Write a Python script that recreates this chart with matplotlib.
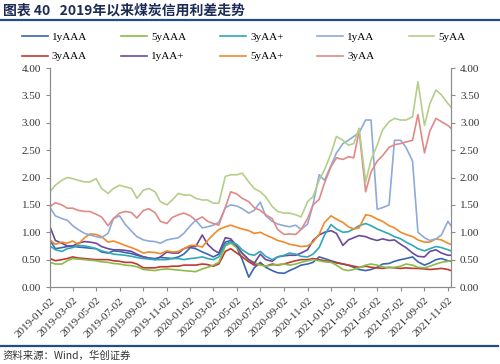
import pandas as pd
import matplotlib
matplotlib.use("Agg")
import matplotlib.pyplot as plt
import matplotlib.dates as mdates
from matplotlib.ticker import FixedLocator, FormatStrFormatter

plt.rcParams['font.family'] = ['Liberation Serif', 'Noto Sans CJK SC', 'DejaVu Sans']

# semi-monthly samples, 2019-01-02 .. 2021-11-10
dates = [pd.Timestamp(y, m, d) for y in (2019, 2020, 2021) for m in range(1, 13) for d in (2, 16)]
dates = [d for d in dates if d <= pd.Timestamp(2021, 11, 2)] + [pd.Timestamp(2021, 11, 10)]

y1AAA = [0.85, 0.70, 0.72, 0.74, 0.75, 0.73, 0.72, 0.71, 0.70, 0.64,
         0.62, 0.66, 0.65, 0.63, 0.61, 0.58, 0.55, 0.53, 0.52, 0.54,
         0.53, 0.52, 0.55, 0.60, 0.72, 0.70, 0.64, 0.60, 0.55, 0.60,
         0.82, 0.85, 0.72, 0.50, 0.18, 0.35, 0.45, 0.36, 0.30, 0.26,
         0.25, 0.30, 0.35, 0.40, 0.42, 0.45, 0.55, 0.52, 0.48, 0.45,
         0.42, 0.40, 0.36, 0.32, 0.30, 0.32, 0.36, 0.42, 0.43, 0.47,
         0.50, 0.52, 0.55, 0.46, 0.40, 0.44, 0.50, 0.52, 0.48, 0.47]
y3AAA = [0.52, 0.48, 0.50, 0.52, 0.55, 0.53, 0.52, 0.51, 0.50, 0.50,
         0.50, 0.48, 0.47, 0.45, 0.45, 0.42, 0.35, 0.35, 0.35, 0.37,
         0.37, 0.38, 0.38, 0.40, 0.40, 0.40, 0.42, 0.41, 0.38, 0.42,
         0.65, 0.70, 0.62, 0.55, 0.46, 0.40, 0.42, 0.38, 0.42, 0.40,
         0.42, 0.45, 0.48, 0.50, 0.50, 0.52, 0.50, 0.48, 0.46, 0.44,
         0.42, 0.40, 0.38, 0.36, 0.38, 0.36, 0.35, 0.34, 0.36, 0.35,
         0.34, 0.35, 0.34, 0.34, 0.33, 0.32, 0.33, 0.34, 0.32, 0.30]
y5AAA = [0.45, 0.42, 0.42, 0.48, 0.52, 0.51, 0.50, 0.49, 0.48, 0.46,
         0.45, 0.43, 0.42, 0.40, 0.39, 0.37, 0.32, 0.31, 0.30, 0.32,
         0.33, 0.32, 0.31, 0.30, 0.29, 0.28, 0.33, 0.36, 0.40, 0.45,
         0.75, 0.80, 0.72, 0.60, 0.50, 0.45, 0.40, 0.38, 0.40, 0.41,
         0.42, 0.40, 0.42, 0.45, 0.48, 0.50, 0.48, 0.46, 0.45, 0.40,
         0.32, 0.30, 0.32, 0.35, 0.40, 0.42, 0.40, 0.37, 0.35, 0.36,
         0.38, 0.42, 0.40, 0.36, 0.35, 0.38, 0.42, 0.45, 0.47, 0.48]
y1AAp = [1.10, 0.85, 0.80, 0.75, 0.75, 0.80, 0.83, 0.82, 0.80, 0.74,
         0.70, 0.68, 0.68, 0.67, 0.65, 0.60, 0.55, 0.53, 0.50, 0.55,
         0.64, 0.62, 0.62, 0.70, 0.74, 0.74, 0.95, 0.78, 0.68, 0.62,
         0.90, 0.88, 0.75, 0.62, 0.50, 0.43, 0.60, 0.50, 0.47, 0.55,
         0.57, 0.58, 0.58, 0.62, 0.68, 0.85, 0.95, 1.00, 1.03, 0.98,
         0.76, 0.86, 0.90, 0.94, 0.92, 0.88, 0.85, 0.88, 0.85, 0.86,
         0.78, 0.72, 0.62, 0.56, 0.55, 0.65, 0.68, 0.62, 0.58, 0.58]
y3AAp = [0.75, 0.68, 0.65, 0.70, 0.72, 0.76, 0.75, 0.73, 0.70, 0.66,
         0.63, 0.60, 0.59, 0.58, 0.56, 0.54, 0.52, 0.51, 0.50, 0.50,
         0.50, 0.52, 0.52, 0.50, 0.52, 0.53, 0.55, 0.52, 0.50, 0.55,
         0.78, 0.82, 0.78, 0.68, 0.60, 0.58, 0.65, 0.56, 0.50, 0.55,
         0.58, 0.62, 0.60, 0.56, 0.55, 0.60, 0.72, 0.95, 1.14, 1.06,
         1.00, 1.01, 1.06, 1.12, 1.16, 1.12, 1.06, 1.02, 0.97, 0.92,
         0.88, 0.82, 0.76, 0.70, 0.66, 0.70, 0.74, 0.72, 0.68, 0.66]
y5AAp = [0.86, 0.78, 0.82, 0.80, 0.84, 0.78, 0.90, 0.97, 0.96, 0.92,
         0.82, 0.84, 0.80, 0.76, 0.72, 0.68, 0.62, 0.64, 0.63, 0.61,
         0.66, 0.64, 0.65, 0.70, 0.76, 0.76, 0.73, 0.85, 0.96, 1.05,
         1.10, 1.13, 1.09, 1.06, 1.03, 0.98, 1.00, 0.95, 0.90, 0.85,
         0.82, 0.78, 0.76, 0.74, 0.75, 0.82, 0.96, 1.18, 1.30, 1.24,
         1.18, 1.10, 1.06, 1.08, 1.32, 1.30, 1.24, 1.20, 1.12, 1.08,
         1.00, 0.96, 0.92, 0.86, 0.82, 0.82, 0.88, 0.86, 0.80, 0.78]
y1AA = [1.45, 1.30, 1.25, 1.22, 1.12, 1.05, 0.98, 0.95, 0.92, 0.90,
        0.98, 1.25, 1.30, 1.15, 1.02, 0.92, 0.86, 0.84, 0.83, 0.80,
        0.86, 0.88, 0.90, 0.98, 1.12, 1.22, 1.08, 1.10, 1.13, 1.18,
        1.45, 1.50, 1.48, 1.43, 1.35, 1.40, 1.55, 1.30, 1.20, 1.15,
        1.12, 1.10, 1.13, 1.05, 1.15, 1.50, 2.05, 1.95, 2.22, 2.45,
        2.62, 2.68, 2.75, 2.82, 3.05, 3.05, 1.42, 1.45, 1.50, 2.68,
        2.68, 2.55, 2.30, 1.00, 0.90, 0.85, 0.88, 0.95, 1.20, 1.12]
y3AA = [1.47, 1.54, 1.50, 1.44, 1.44, 1.40, 1.38, 1.38, 1.33, 1.28,
        1.12, 1.25, 1.35, 1.38, 1.36, 1.26, 1.40, 1.43, 1.36, 1.20,
        1.16, 1.27, 1.32, 1.35, 1.30, 1.22, 1.28, 1.20, 1.16, 1.13,
        1.45, 1.74, 1.70, 1.62, 1.56, 1.45, 1.40, 1.32, 1.25, 1.05,
        0.96, 0.97, 0.96, 1.05, 1.25, 1.50, 1.60, 1.90, 2.20, 2.36,
        2.33, 2.38, 2.36, 2.85, 1.74, 2.10, 2.30, 2.40, 2.55, 2.60,
        2.62, 2.65, 2.68, 3.15, 2.45, 2.85, 3.08, 3.02, 2.95, 2.90]
y5AA = [1.74, 1.86, 1.95, 2.00, 1.98, 1.95, 1.92, 1.92, 1.98, 1.80,
        1.71, 1.80, 1.86, 1.83, 1.80, 1.62, 1.77, 1.80, 1.74, 1.56,
        1.50, 1.59, 1.71, 1.68, 1.68, 1.62, 1.59, 1.59, 1.53, 1.53,
        2.02, 2.05, 2.05, 2.08, 1.92, 1.80, 1.74, 1.65, 1.47, 1.38,
        1.35, 1.35, 1.32, 1.28, 1.56, 1.65, 1.95, 2.14, 2.44, 2.75,
        2.68, 2.59, 2.62, 2.90, 1.92, 2.32, 2.59, 2.87, 3.02, 3.08,
        3.05, 3.05, 3.11, 3.75, 2.95, 3.35, 3.60, 3.51, 3.35, 3.29]

labels = ['1yAAA', '3yAAA', '5yAAA', '1yAA+', '3yAA+', '5yAA+', '1yAA', '3yAA', '5yAA']
series = [y1AAA, y3AAA, y5AAA, y1AAp, y3AAp, y5AAp, y1AA, y3AA, y5AA]
colors = ['#3a66ad', '#c0392f', '#8cbb48', '#6b4a9c', '#2fa8b8',
          '#f08a2a', '#8eaad8', '#e08a88', '#b3cf8a']

tick_dates = [pd.Timestamp(y, m, 2) for y in (2019, 2020, 2021) for m in range(1, 13, 2)]

fig = plt.figure(figsize=(5.0, 3.64), dpi=100)
ax = fig.add_axes([0.10, 0.2115, 0.802, 0.6016])

for vals, lab, c in zip(series, labels, colors):
    ax.plot(dates, vals, color=c, lw=1.2, label=lab)

ax.set_xlim(dates[0], dates[-1])
ax.set_ylim(0, 4)
ax.set_yticks([i * 0.5 for i in range(9)])
ax.yaxis.set_major_formatter(FormatStrFormatter('%.2f'))
ax.xaxis.set_major_locator(FixedLocator(mdates.date2num(tick_dates)))
ax.xaxis.set_major_formatter(mdates.DateFormatter('%Y-%m-%d'))
for lab in ax.get_xticklabels():
    lab.set_rotation(45)
    lab.set_ha('right')
    lab.set_rotation_mode('anchor')

ax2 = ax.twinx()
ax2.set_ylim(0, 4)
ax2.set_yticks([i * 0.5 for i in range(9)])
ax2.yaxis.set_major_formatter(FormatStrFormatter('%.2f'))

for a in (ax, ax2):
    a.spines['top'].set_visible(False)
    for s in ('left', 'right', 'bottom'):
        a.spines[s].set_color('#8c8c8c')
    a.tick_params(colors='#8c8c8c', labelcolor='#333333', labelsize=8, length=3, width=0.8)

fig.legend(*ax.get_legend_handles_labels(), ncol=5, loc='upper left',
           bbox_to_anchor=(0.035, 0.924), frameon=False, fontsize=8,
           handlelength=2.3, handletextpad=0.4, columnspacing=3.05,
           labelspacing=0.88, borderaxespad=0)

fig.text(0.006, 0.972, '图表 40   2019年以来煤炭信用利差走势', fontsize=10,
         fontweight='bold', color='#1c2c55', va='center', ha='left',
         family=['Noto Sans CJK SC', 'DejaVu Sans'])
fig.add_artist(plt.Line2D([0, 1], [0.945, 0.945], color='#1f4e8c', lw=1.6))
fig.add_artist(plt.Line2D([0, 0.995], [0.05, 0.05], color='#1f4e8c', lw=1.6))
fig.text(0.006, 0.022, '资料来源：Wind，华创证券', fontsize=7.5, color='#333333',
         va='center', ha='left', family=['Noto Sans CJK SC', 'DejaVu Sans'])

fig.savefig('out.png', dpi=100)
